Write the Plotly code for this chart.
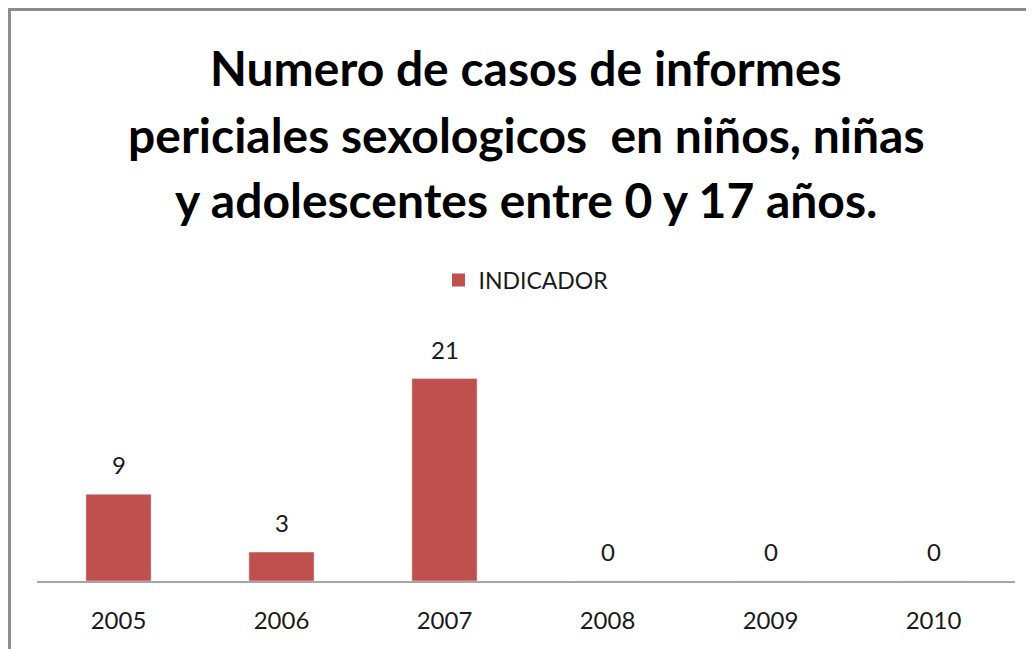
import plotly.graph_objects as go

years = ["2005", "2006", "2007", "2008", "2009", "2010"]
values = [9, 3, 21, 0, 0, 0]
series_name = "INDICADOR"
title_lines = [
    "Numero de casos de informes",
    "periciales sexologicos  en niños, niñas",
    "y adolescentes entre 0 y 17 años.",
]

BAR = "#C0504D"
FONT = "Lato"

fig = go.Figure()
fig.add_trace(go.Bar(
    x=years, y=values, name=series_name, marker_color=BAR,
    width=0.4, showlegend=False,
))
# legend entry with a larger square swatch
fig.add_trace(go.Scatter(
    x=[None], y=[None], mode="markers", name=series_name,
    marker=dict(symbol="square", size=13, color=BAR), showlegend=True,
))

# data labels (category index positions on the category axis)
for i, yv in enumerate(values):
    fig.add_annotation(
        x=i, y=yv, text=str(yv), showarrow=False,
        yanchor="bottom", yshift=13,
        font=dict(family=FONT, size=24, color="#1a1a1a"),
    )

# title lines
for line, ypos in zip(title_lines, [2.129, 1.851, 1.581]):
    fig.add_annotation(
        x=0.5, y=ypos, xref="paper", yref="paper", text="<b>" + line + "</b>",
        showarrow=False, xanchor="center", yanchor="middle",
        font=dict(family=FONT, size=48, color="#000000"),
    )

# border (kept just inside the figure area so all sides render)
fig.add_shape(
    type="rect", xref="paper", yref="paper",
    x0=-0.0281, x1=1.0155, y0=-0.4, y1=2.371,
    line=dict(color="#8c8c8c", width=3), fillcolor="rgba(0,0,0,0)", layer="below",
)

fig.update_layout(
    width=1034, height=649,
    margin=dict(l=29, r=27, t=332, b=76, autoexpand=False),
    paper_bgcolor="white", plot_bgcolor="white",
    font=dict(family=FONT, size=24, color="#1a1a1a"),
    showlegend=True,
    legend=dict(
        orientation="h", x=0.5, xanchor="center", y=1.249, yanchor="middle",
        font=dict(family=FONT, size=23, color="#1a1a1a"),
    ),
)
fig.update_xaxes(
    type="category", range=[-0.5, len(years) - 0.5],
    showline=True, linecolor="#a6a6a6", linewidth=2, showgrid=False,
    ticks="outside", ticklen=17, tickcolor="rgba(0,0,0,0)",
    tickfont=dict(family=FONT, size=24, color="#1a1a1a"),
)
fig.update_yaxes(
    range=[0, 25], visible=False, showgrid=False, zeroline=False,
)

fig.write_html("out.html")
